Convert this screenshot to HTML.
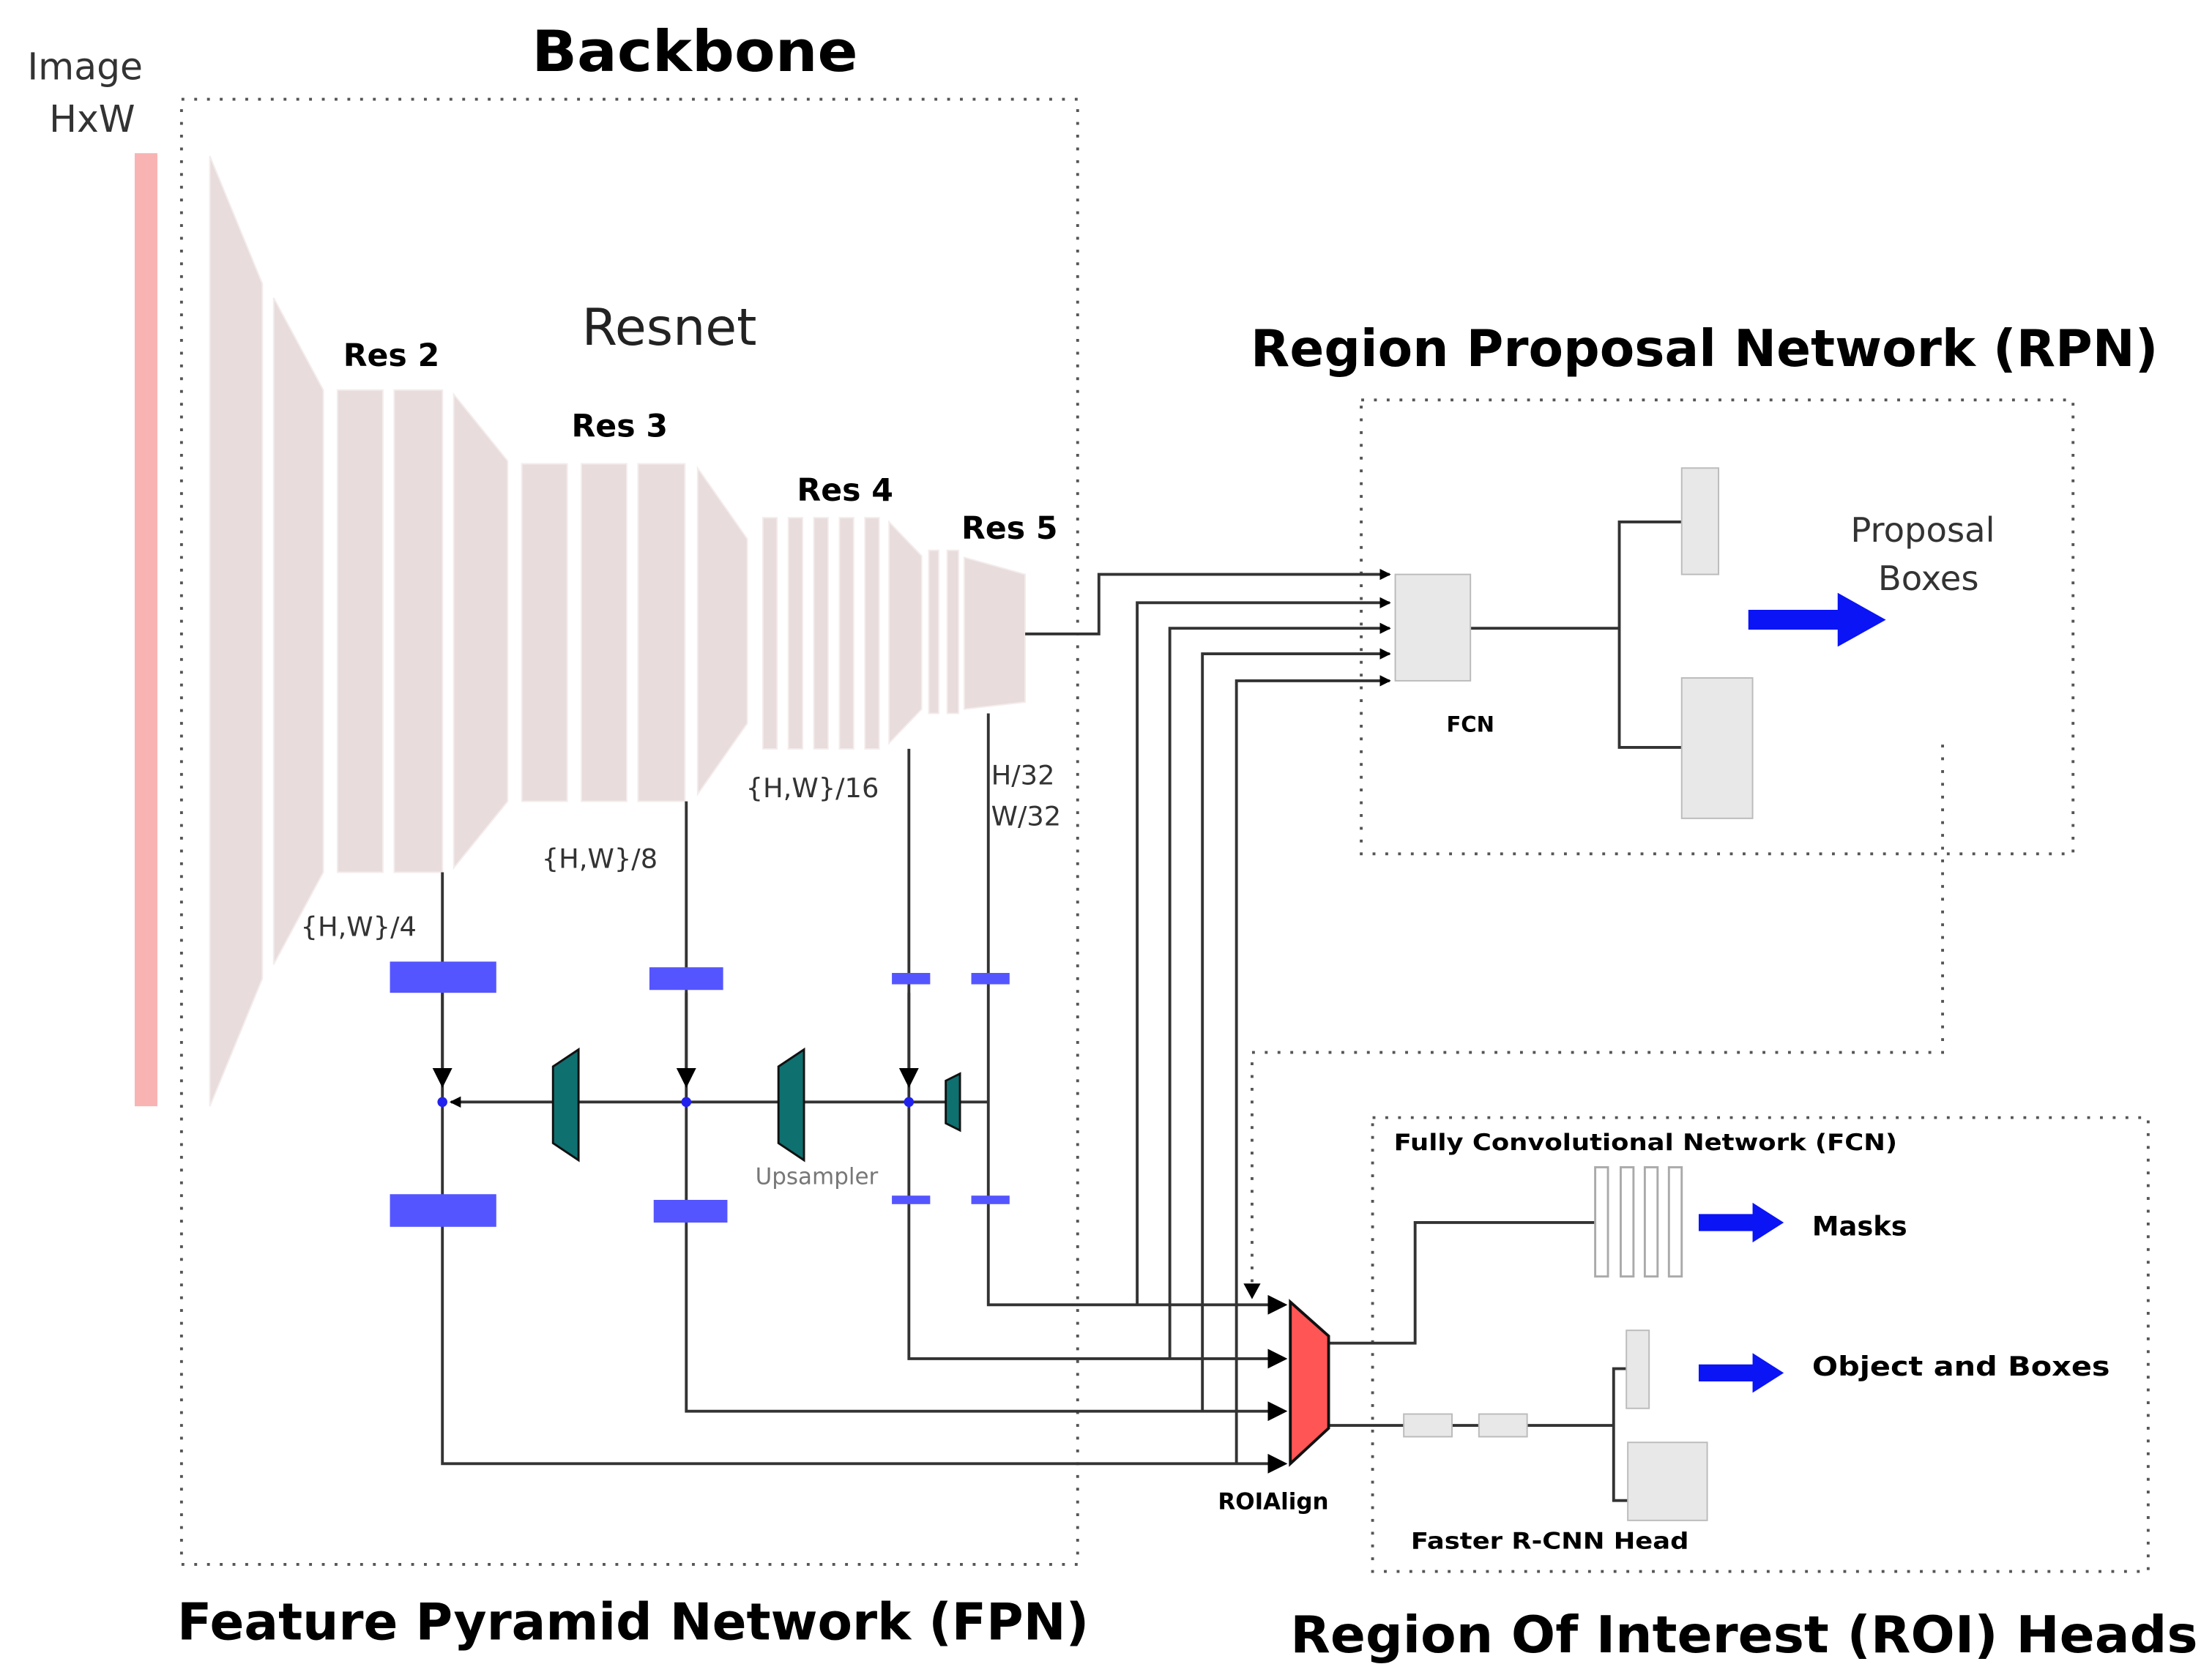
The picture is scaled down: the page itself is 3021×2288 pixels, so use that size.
<!DOCTYPE html>
<html><head><meta charset="utf-8"><style>html,body{margin:0;padding:0;background:#fff}svg{display:block}</style></head>
<body>
<svg width="3021" height="2288" viewBox="0 0 1560 1181" preserveAspectRatio="none" xmlns="http://www.w3.org/2000/svg" font-family="DejaVu Sans, Liberation Sans, sans-serif">
<defs>
<marker id="ah" markerWidth="8" markerHeight="8" refX="7" refY="4" orient="auto" markerUnits="userSpaceOnUse"><path d="M0,0 L8,4 L0,8 z" fill="#000"/></marker>
<marker id="ab" markerWidth="14" markerHeight="14" refX="12" refY="7" orient="auto" markerUnits="userSpaceOnUse"><path d="M0,0 L14,7 L0,14 z" fill="#000"/></marker>
</defs>
<rect width="1560" height="1181" fill="#fff"/>
<!-- image -->
<text x="60" y="56" font-size="26" text-anchor="middle" fill="#333">Image</text>
<text x="65" y="93" font-size="26" text-anchor="middle" fill="#333">HxW</text>
<rect x="95" y="108" width="16" height="672" fill="#f9b3b3"/>
<!-- dotted boxes -->
<g fill="none" stroke="#555" stroke-width="2" stroke-dasharray="2,7">
<rect x="128" y="70" width="632" height="1033"/>
<rect x="960" y="282" width="502" height="320"/>
<rect x="968" y="788" width="547" height="320"/>
<polyline points="1370,525 1370,742 883,742 883,905"/>
</g>
<path d="M877,905 L889,905 L883,916 z" fill="#000"/>
<!-- titles -->
<text x="490" y="50" font-size="40" font-weight="bold" text-anchor="middle" textLength="230" lengthAdjust="spacingAndGlyphs">Backbone</text>
<text x="1202" y="258" font-size="36" font-weight="bold" text-anchor="middle" textLength="640" lengthAdjust="spacingAndGlyphs">Region Proposal Network (RPN)</text>
<text x="125" y="1156" font-size="36" font-weight="bold" textLength="643" lengthAdjust="spacingAndGlyphs">Feature Pyramid Network (FPN)</text>
<text x="910" y="1165" font-size="36" font-weight="bold" textLength="640" lengthAdjust="spacingAndGlyphs">Region Of Interest (ROI) Heads</text>
<!-- resnet shapes -->
<g fill="#e8dcdc" stroke="#f4ecec" stroke-width="1">
<polygon points="148,110 185,200 185,690 148,780"/>
<polygon points="193,210 228,275 228,615 193,680"/>
<rect x="238" y="275" width="32" height="340"/>
<rect x="278" y="275" width="34" height="340"/>
<polygon points="320,278 358,325 358,565 320,612"/>
<rect x="368" y="327" width="32" height="238"/>
<rect x="410" y="327" width="32" height="238"/>
<rect x="450" y="327" width="33" height="238"/>
<polygon points="492,330 527,380 527,510 492,560"/>
<rect x="538" y="365" width="10" height="163"/>
<rect x="556" y="365" width="10" height="163"/>
<rect x="574" y="365" width="10" height="163"/>
<rect x="592" y="365" width="10" height="163"/>
<rect x="610" y="365" width="10" height="163"/>
<polygon points="627,368 650,392 650,500 627,524"/>
<rect x="655" y="388" width="7" height="115"/>
<rect x="668" y="388" width="8" height="115"/>
<polygon points="680,393 723,405 723,495 680,500"/>
</g>
<text x="472" y="243" font-size="36" text-anchor="middle" fill="#222">Resnet</text>
<g font-size="22" font-weight="bold" text-anchor="middle">
<text x="276" y="258">Res 2</text>
<text x="437" y="308">Res 3</text>
<text x="596" y="353">Res 4</text>
<text x="712" y="380">Res 5</text>
</g>
<g font-size="19" fill="#333">
<text x="212" y="660">{H,W}/4</text>
<text x="382" y="612">{H,W}/8</text>
<text x="526" y="562">{H,W}/16</text>
<text x="699" y="553">H/32</text>
<text x="699" y="582">W/32</text>
</g>
<!-- connectors -->
<g fill="none" stroke="#333" stroke-width="2">
<polyline points="723,447 775,447 775,405 980,405" marker-end="url(#ah)"/>
<polyline points="802,920 802,425 980,425" marker-end="url(#ah)"/>
<polyline points="825,958 825,443 980,443" marker-end="url(#ah)"/>
<polyline points="848,995 848,461 980,461" marker-end="url(#ah)"/>
<polyline points="872,1032 872,480 980,480" marker-end="url(#ah)"/>
<polyline points="697,503 697,920 906,920" marker-end="url(#ab)"/>
<polyline points="641,528 641,958 906,958" marker-end="url(#ab)"/>
<polyline points="484,565 484,995 906,995" marker-end="url(#ab)"/>
<polyline points="312,615 312,1032 906,1032" marker-end="url(#ab)"/>
<line x1="312" y1="700" x2="312" y2="765" marker-end="url(#ab)"/>
<line x1="484" y1="700" x2="484" y2="765" marker-end="url(#ab)"/>
<line x1="641" y1="700" x2="641" y2="765" marker-end="url(#ab)"/>
<line x1="697" y1="777" x2="318" y2="777" marker-end="url(#ah)"/>
<line x1="1037" y1="443" x2="1142" y2="443"/>
<polyline points="1186,368 1142,368 1142,527 1186,527"/>
<polyline points="937,947 998,947 998,862 1125,862"/>
<line x1="937" y1="1005" x2="1138" y2="1005"/>
<polyline points="1147,965 1138,965 1138,1058 1148,1058"/>
</g>
<g fill="#2222ee"><circle cx="312" cy="777" r="3.5"/><circle cx="484" cy="777" r="3.5"/><circle cx="641" cy="777" r="3.5"/></g>
<!-- blue bars -->
<g fill="#5555ff">
<rect x="275" y="678" width="75" height="22"/><rect x="458" y="682" width="52" height="16"/>
<rect x="629" y="686" width="27" height="8"/><rect x="685" y="686" width="27" height="8"/>
<rect x="275" y="842" width="75" height="23"/><rect x="461" y="846" width="52" height="16"/>
<rect x="629" y="843" width="27" height="6"/><rect x="685" y="843" width="27" height="6"/>
</g>
<!-- upsamplers -->
<g fill="#0f7070" stroke="#111" stroke-width="1.5">
<polygon points="390,752 408,740 408,818 390,806"/>
<polygon points="549,752 567,740 567,818 549,806"/>
<polygon points="667,762 677,757 677,797 667,792"/>
</g>
<text x="576" y="835" font-size="16" text-anchor="middle" fill="#777">Upsampler</text>
<!-- RPN -->
<rect x="984" y="405" width="53" height="75" fill="#e8e8e8" stroke="#bbb"/>
<text x="1037" y="516" font-size="15" font-weight="bold" text-anchor="middle">FCN</text>
<rect x="1186" y="330" width="26" height="75" fill="#e8e8e8" stroke="#bbb"/>
<rect x="1186" y="478" width="50" height="99" fill="#e8e8e8" stroke="#bbb"/>
<path d="M1233,430 L1296,430 L1296,418 L1330,437 L1296,456 L1296,444 L1233,444 z" fill="#0a14f5"/>
<text x="1356" y="382" font-size="24" text-anchor="middle" fill="#333">Proposal</text>
<text x="1360" y="416" font-size="24" text-anchor="middle" fill="#333">Boxes</text>
<!-- ROI -->
<polygon points="910,918 937,942 937,1007 910,1032" fill="#f55" stroke="#111" stroke-width="2"/>
<text x="898" y="1064" font-size="16" font-weight="bold" text-anchor="middle">ROIAlign</text>
<text x="983" y="811" font-size="16" font-weight="bold" textLength="355" lengthAdjust="spacingAndGlyphs">Fully Convolutional Network (FCN)</text>
<g fill="#fff" stroke="#aaa" stroke-width="1.5">
<rect x="1125" y="823" width="9" height="77"/><rect x="1143" y="823" width="9" height="77"/>
<rect x="1160" y="823" width="9" height="77"/><rect x="1177" y="823" width="9" height="77"/>
</g>
<path d="M1198,856 L1236,856 L1236,848 L1258,862 L1236,876 L1236,868 L1198,868 z" fill="#0a14f5"/>
<text x="1278" y="871" font-size="19" font-weight="bold">Masks</text>
<g fill="#e8e8e8" stroke="#bbb">
<rect x="990" y="997" width="34" height="16"/><rect x="1043" y="997" width="34" height="16"/>
<rect x="1147" y="938" width="16" height="55"/><rect x="1148" y="1017" width="56" height="55"/>
</g>
<path d="M1198,962 L1236,962 L1236,954 L1258,968 L1236,982 L1236,974 L1198,974 z" fill="#0a14f5"/>
<text x="1278" y="970" font-size="19" font-weight="bold" textLength="210" lengthAdjust="spacingAndGlyphs">Object and Boxes</text>
<text x="995" y="1092" font-size="16" font-weight="bold" textLength="196" lengthAdjust="spacingAndGlyphs">Faster R-CNN Head</text>
</svg>
</body></html>
